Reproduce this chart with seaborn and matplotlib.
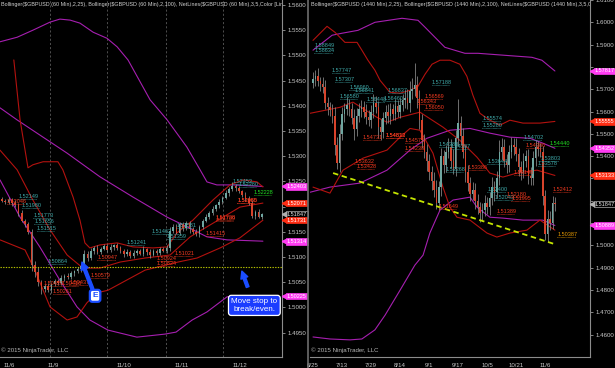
import numpy as np
import matplotlib
matplotlib.use("Agg")
import matplotlib.pyplot as plt
import matplotlib.transforms as mtransforms
import seaborn as sns

# ---------------- LEFT PANEL (60 min) ----------------
L_first_open = 1.5215
L_close = [1.5212, 1.5209, 1.5214, 1.5207, 1.5204, 1.5188, 1.5172, 1.5165, 1.5150, 1.5085,
           1.5070, 1.5050, 1.5036, 1.5042, 1.5034, 1.5046, 1.5052, 1.5049, 1.5058, 1.5063,
           1.5060, 1.5068, 1.5072, 1.5076, 1.5082, 1.5106, 1.5098, 1.5112, 1.5118, 1.5110,
           1.5116, 1.5121, 1.5114, 1.5119, 1.5123, 1.5117, 1.5112, 1.5106, 1.5110, 1.5102,
           1.5108, 1.5112, 1.5106, 1.5115, 1.5110, 1.5104, 1.5112, 1.5108, 1.5115, 1.5112,
           1.5118, 1.5152, 1.5160, 1.5148, 1.5165, 1.5158, 1.5168, 1.5155, 1.5150, 1.5145,
           1.5160, 1.5172, 1.5180, 1.5188, 1.5195, 1.5203, 1.5210, 1.5218, 1.5226, 1.5234,
           1.5240, 1.5236, 1.5230, 1.5224, 1.5216, 1.5208, 1.5182, 1.5190, 1.5180, 1.51847]
L_up_pips = [4, 3, 5, 3, 6, 4, 5, 3, 4, 6, 8, 10, 5, 4, 6, 3, 5, 4, 6, 3,
             5, 4, 3, 5, 4, 8, 6, 5, 4, 6, 3, 5, 4, 6, 3, 5, 4, 3, 6, 4,
             5, 3, 4, 6, 3, 5, 4, 3, 5, 4, 6, 8, 5, 6, 4, 5, 3, 4, 5, 6,
             4, 3, 5, 4, 6, 3, 5, 4, 6, 5, 8, 4, 5, 3, 4, 6, 5, 4, 5, 3]
L_dn_pips = [3, 4, 3, 5, 4, 6, 3, 5, 4, 12, 10, 8, 10, 6, 4, 5, 3, 4, 5, 6,
             3, 4, 5, 3, 6, 4, 5, 3, 6, 4, 5, 3, 4, 5, 6, 3, 4, 6, 5, 3,
             4, 5, 3, 4, 6, 5, 3, 4, 5, 3, 4, 6, 5, 3, 4, 6, 5, 8, 4, 3,
             5, 4, 3, 5, 4, 3, 5, 4, 3, 5, 4, 6, 3, 5, 4, 5, 4, 6, 3, 5]

L_bb25_up_x = [3.6, 5.5, 7.9, 9.4, 12.5, 17, 18.5, 21.6, 23.7, 25.2, 26.7, 29.8, 35, 39.8, 45.9, 50.2, 53.2, 58, 64.1, 69.3, 73.3, 77.5, 79.3]
L_bb25_up_y = [1.5491, 1.5372, 1.5277, 1.5283, 1.5289, 1.5289, 1.5273, 1.5219, 1.5173, 1.5128, 1.5118, 1.5124, 1.5128, 1.5120, 1.5118, 1.5120, 1.5148, 1.5173, 1.5213, 1.5243, 1.5253, 1.5249, 1.5239]
L_bb25_mid_x = [-0.6, 4.6, 9.4, 14.6, 19.8, 24.6, 29.8, 35.9, 43.5, 51.1, 57.2, 67.2, 72.3, 79.3]
L_bb25_mid_y = [1.5312, 1.5273, 1.5213, 1.5154, 1.5104, 1.5078, 1.5078, 1.5090, 1.5098, 1.5104, 1.5140, 1.5179, 1.5199, 1.5207]
L_bb25_lo_x = [-0.6, 7, 10, 14.6, 19.8, 22.8, 25.8, 28.9, 32.2, 43.5, 53.5, 59.3, 66.3, 72.3, 79.3]
L_bb25_lo_y = [1.5134, 1.5114, 1.5074, 1.5001, 1.4975, 1.4981, 1.5009, 1.5029, 1.5034, 1.5074, 1.5090, 1.5098, 1.5118, 1.5138, 1.5173]
L_bb100_up_x = [-0.6, 4.6, 9.4, 14.6, 17.6, 20.7, 23.7, 27.7, 31.9, 35, 38.3, 45, 50.2, 56.2, 60.2, 62.3, 65.3, 70.2, 79.3]
L_bb100_up_y = [1.5527, 1.5536, 1.5550, 1.5566, 1.5572, 1.5570, 1.5564, 1.5546, 1.5534, 1.5517, 1.5491, 1.5412, 1.5372, 1.5318, 1.5273, 1.5249, 1.5243, 1.5243, 1.5240]
L_bb100_mid_x = [-0.6, 4.6, 19.8, 29.8, 39.8, 50.2, 56.2, 62.3, 68.4, 79.3]
L_bb100_mid_y = [1.5396, 1.5372, 1.5306, 1.5259, 1.5219, 1.5179, 1.5160, 1.5140, 1.5134, 1.51314]
L_bb100_lo_x = [-0.6, 5.5, 11.5, 17.6, 22.8, 26.7, 32.2, 41, 49.5, 52.9, 57.8, 62.3, 68.4, 79.3]
L_bb100_lo_y = [1.5253, 1.5179, 1.5120, 1.5054, 1.5001, 1.4975, 1.4955, 1.4941, 1.4947, 1.4951, 1.4975, 1.4991, 1.5021, 1.50225]

L_entry_price = 1.5080
L_grid_x = [14.6, 31.9, 49.8, 67.2]
L_tick_x = [2.1, 15.5, 37.1, 54.7, 72.3]
L_tick_lab = ['11/6', '11/9', '11/10', '11/11', '11/12']
L_tag_vals = [1.52403, 1.52071, 1.51847, 1.51731, 1.51314, 1.50225]
L_tag_kind = ['m', 'r', 'k', 'r', 'm', 'm']

L_hi_vals = [1.52149, 1.51980, 1.51773, 1.51656, 1.51515, 1.50864, 1.51241, 1.51462, 1.51359, 1.51581, 1.52453, 1.52380]
L_hi_x = [5, 6, 9.5, 9.8, 10.5, 14, 38, 45.5, 50, 53, 70, 72]
L_lo_vals = [1.52046, 1.50420, 1.50437, 1.50416, 1.50261, 1.50579, 1.50947, 1.50924, 1.50824, 1.51021, 1.51415, 1.51738, 1.51709, 1.52080, 1.52065]
L_lo_x = [1.5, 12.5, 20.5, 18, 15.5, 27, 29, 47, 47, 52.5, 62, 65, 65, 71.5, 71.5]
L_green_vals = [1.52228]
L_green_x = [76.5]

# ---------------- RIGHT PANEL (1440 min) ----------------
R_first_open = 1.5730
R_close = [1.5745, 1.5760, 1.5735, 1.5725, 1.5710, 1.5640, 1.5620, 1.5605, 1.5580, 1.5450,
           1.5370, 1.5500, 1.5590, 1.5610, 1.5630, 1.5610, 1.5570, 1.5520, 1.5580, 1.5610,
           1.5620, 1.5600, 1.5575, 1.5560, 1.5600, 1.5640, 1.5620, 1.5530, 1.5510, 1.5570,
           1.5600, 1.5580, 1.5610, 1.5590, 1.5625, 1.5600, 1.5630, 1.5650, 1.5660, 1.5640,
           1.5690, 1.5700, 1.5720, 1.5660, 1.5560, 1.5470, 1.5420, 1.5380, 1.5330, 1.5290,
           1.5250, 1.5190, 1.5260, 1.5400, 1.5360, 1.5420, 1.5440, 1.5380, 1.5340, 1.5480,
           1.5550, 1.5490, 1.5420, 1.5330, 1.5280, 1.5230, 1.5250, 1.5200, 1.5170, 1.5145,
           1.5160, 1.5190, 1.5170, 1.5210, 1.5260, 1.5240, 1.5300, 1.5420, 1.5440, 1.5380,
           1.5360, 1.5420, 1.5450, 1.5440, 1.5410, 1.5350, 1.5330, 1.5380, 1.5400, 1.5310,
           1.5300, 1.5390, 1.5440, 1.5430, 1.5420, 1.5220, 1.5050, 1.5120, 1.5100, 1.5190,
           1.51847]
R_up_pips = [30, 25, 35, 20, 28, 30, 25, 22, 30, 40,
             35, 45, 30, 28, 35, 25, 30, 40, 35, 28,
             30, 25, 35, 30, 28, 40, 30, 25, 35, 30,
             28, 35, 30, 25, 30, 28, 32, 30, 35, 40,
             45, 50, 96, 40, 35, 30, 28, 35, 30, 25,
             40, 45, 30, 35, 28, 30, 40, 35, 50, 35,
             107, 30, 35, 28, 30, 25, 35, 30, 28, 25,
             30, 35, 28, 30, 45, 30, 35, 50, 40, 35,
             30, 28, 35, 30, 40, 25, 30, 35, 28, 30,
             40, 35, 30, 28, 30, 25, 30, 40, 35, 30,
             25]
R_dn_pips = [25, 30, 20, 35, 28, 30, 35, 25, 30, 45,
             27, 40, 30, 35, 25, 30, 28, 47, 30, 25,
             35, 28, 30, 25, 35, 30, 28, 49, 40, 30,
             25, 30, 35, 28, 30, 25, 30, 28, 35, 30,
             40, 35, 30, 45, 40, 35, 30, 45, 35, 40,
             35, 25, 30, 40, 35, 30, 28, 35, 18, 30,
             35, 40, 30, 45, 35, 30, 28, 35, 30, 40,
             35, 30, 28, 35, 30, 40, 30, 28, 35, 30,
             35, 30, 28, 35, 30, 40, 35, 28, 30, 35,
             30, 28, 35, 30, 25, 40, 27, 35, 30, 28,
             30]

R_bb25_up_x = [0, 5.8, 9.1, 13.2, 18.2, 20.2, 22.7, 25.6, 27.7, 31.8, 36, 40.1, 43.4, 46.3, 49.2, 52.5, 56.6, 60.7, 63.6, 66.1, 69, 73.1, 77.3, 81.4, 86.8, 93.8, 100]
R_bb25_up_y = [1.5919, 1.5982, 1.5955, 1.5910, 1.5910, 1.5875, 1.5830, 1.5785, 1.5740, 1.5686, 1.5682, 1.5695, 1.5713, 1.5767, 1.5812, 1.5830, 1.5830, 1.5812, 1.5758, 1.5673, 1.5592, 1.5561, 1.5539, 1.5561, 1.5548, 1.5548, 1.55555]
R_bb25_mid_x = [-1.2, 11.2, 16.5, 26.4, 30.6, 36, 44.2, 53.7, 60.7, 67.8, 73.1, 78.5, 84.3, 92.6, 100]
R_bb25_mid_y = [1.5592, 1.5619, 1.5642, 1.5574, 1.5552, 1.5574, 1.5597, 1.5530, 1.5471, 1.5395, 1.5324, 1.5306, 1.5324, 1.5337, 1.53133]
R_bb25_lo_x = [0, 7, 12.4, 20.7, 30.6, 36, 40.1, 44.2, 49.6, 53.7, 56.6, 59.5, 64.9, 71.9, 76, 81.4, 88.4, 93.8, 100]
R_bb25_lo_y = [1.5261, 1.5234, 1.5337, 1.5391, 1.5427, 1.5485, 1.5524, 1.5516, 1.5413, 1.5261, 1.5171, 1.5126, 1.5113, 1.5055, 1.5037, 1.5055, 1.5068, 1.5113, 1.5068]
R_bb100_up_x = [0, 7.9, 12, 18.6, 25.6, 36.8, 43.4, 46.3, 54.5, 62.8, 68.2, 79.3, 90.5, 94.6, 100]
R_bb100_up_y = [1.5875, 1.5942, 1.5951, 1.5964, 1.6000, 1.6018, 1.6009, 1.5978, 1.5888, 1.5861, 1.5861, 1.5852, 1.5843, 1.5830, 1.57817]
R_bb100_mid_x = [-1.2, 7, 19.4, 30.6, 40.1, 47.1, 56.6, 64.9, 73.1, 81.4, 89.7, 95, 100]
R_bb100_mid_y = [1.5238, 1.5261, 1.5279, 1.5337, 1.5427, 1.5480, 1.5516, 1.5524, 1.5503, 1.5485, 1.5480, 1.5458, 1.54352]
R_bb100_lo_x = [0, 7, 15.3, 20.2, 25.6, 29.8, 36, 42.1, 45.5, 48.3, 52.5, 57.9, 64.9, 67.8, 73.1, 78.5, 86.8, 95, 100]
R_bb100_lo_y = [1.4589, 1.4580, 1.4576, 1.4580, 1.4621, 1.4687, 1.4799, 1.4911, 1.4956, 1.5055, 1.5158, 1.5203, 1.5216, 1.5171, 1.5126, 1.5122, 1.5113, 1.5113, 1.50889]

R_trend_x = [8.3, 100]
R_trend_y = [1.5324, 1.5005]
R_tick_x = [0, 12, 24, 36, 48, 60, 72, 84, 96]
R_tick_lab = ['6/25', '7/13', '7/29', '8/14', '9/1', '9/17', '10/5', '10/21', '11/6']
R_tag_vals = [1.57817, 1.55555, 1.54352, 1.53133, 1.51847, 1.50889]
R_tag_kind = ['m', 'r', 'm', 'r', 'k', 'm']

R_hi_vals = [1.58849, 1.58634, 1.57747, 1.57307, 1.56580, 1.56960, 1.56841, 1.56448, 1.56460, 1.56837, 1.57188, 1.55574, 1.55280, 1.54388, 1.54307, 1.53268, 1.53644, 1.52400, 1.52043, 1.54702, 1.53803, 1.53578]
R_hi_x = [0.5, 0.5, 7.8, 9, 11, 15, 17, 22, 29, 31, 49, 70, 70, 52, 57, 55, 72, 72, 75, 87, 94, 93]
R_lo_vals = [1.54731, 1.54813, 1.54832, 1.53632, 1.53428, 1.56569, 1.56343, 1.56050, 1.54572, 1.54238, 1.51649, 1.53386, 1.51389, 1.52180, 1.51995, 1.53148, 1.54386, 1.52412]
R_lo_x = [20.7, 30, 30, 17, 18, 46, 43, 46, 38, 38, 52, 64, 76, 80, 82, 83, 88, 99]
R_green_vals = [1.5444]
R_green_x = [98]
R_orange_vals = [1.50387]
R_orange_x = [101]

# ---------------- STYLE ----------------
sns.set_theme(style="dark", rc={
    "axes.facecolor": "black", "figure.facecolor": "black",
    "axes.edgecolor": "#8c8c8c", "axes.linewidth": 0.8,
    "xtick.color": "#9a9a9a", "ytick.color": "#9a9a9a",
    "text.color": "#d0d0d0", "axes.grid": False,
})
plt.rcParams['font.family'] = ['Liberation Sans', 'DejaVu Sans']

UP_C = '#6fa6a0'
DN_C = '#d8432b'
WICK_C = '#8c8c8c'
BB25_C = '#b3120f'
BB100_C = '#a61fb0'
TEAL = '#3fa9a9'
LOWRED = '#f0391f'
TAG = {'m': ('#ff3cf2', '#ffffff', '#ff3cf2'), 'r': ('#ff2d14', '#ffffff', '#ff2d14'),
       'k': ('#000000', '#e0e0e0', '#b0b0b0')}
FS = 4.4
TFS = 4.0

fig = plt.figure(figsize=(6.15, 3.68), dpi=100)
W, H = 615.0, 368.0
axL = fig.add_axes([0 / W, 11 / H, 282 / W, 357 / H])
axR = fig.add_axes([310 / W, 11 / H, 280 / W, 357 / H])


def candles(ax, first_open, closes, up, dn, width):
    c = np.array(closes)
    o = np.concatenate([[first_open], c[:-1]])
    x = np.arange(len(c))
    top = np.maximum(o, c)
    bot = np.minimum(o, c)
    hi = top + np.array(up) * 1e-4
    lo = bot - np.array(dn) * 1e-4
    ax.vlines(x, lo, hi, color=WICK_C, lw=0.55, zorder=3)
    cols = [UP_C if cc >= oo else DN_C for oo, cc in zip(o, c)]
    ax.bar(x, np.maximum(top - bot, 0.00012), bottom=bot, width=width, color=cols,
           lw=0, zorder=4)


def band(ax, xs, ys, color, lw=0.8):
    sns.lineplot(x=xs, y=ys, ax=ax, color=color, lw=lw, zorder=2, legend=False)


def labels(ax, vals, xs, color, span):
    for v, x in zip(vals, xs):
        ax.text(x, v, f"{v:.5f}", color=color, fontsize=TFS,
                ha='left', va='bottom', zorder=6, clip_on=True)
        ax.hlines(v, x, x + span, color=color, lw=0.6, linestyles=(0, (0.6, 0.8)), zorder=6)


def tags(ax, vals, kinds, axw):
    tr = mtransforms.blended_transform_factory(ax.transAxes, ax.transData)
    for v, k in zip(vals, kinds):
        fc, tc, ec = TAG[k]
        ax.text(1 + 4.5 / axw, v, f"{v:.5f}", transform=tr, color=tc, fontsize=TFS,
                ha='left', va='center', zorder=10, clip_on=False,
                bbox=dict(boxstyle='square,pad=0.15', fc=fc, ec=ec, lw=0.5))
        ax.plot([1 + 2.2 / axw], [v], transform=tr, marker='<', ms=3.2, color=ec,
                mec=ec, clip_on=False, zorder=11)


def style_axis(ax, ylo, yhi, yticks, tag_vals, px_per_unit):
    ax.set_ylim(ylo, yhi)
    for s in ['left', 'top']:
        ax.spines[s].set_visible(False)
    ax.yaxis.tick_right()
    ax.set_yticks(yticks)
    labs = []
    for t in yticks:
        covered = any(abs(t - tv) * px_per_unit < 4.8 for tv in tag_vals)
        labs.append('' if covered else f"{t:.4f}")
    ax.set_yticklabels(labs)
    ax.tick_params(axis='y', length=2.5, width=0.6, labelsize=FS, labelcolor='#c8c8c8', pad=1.5)
    ax.tick_params(axis='x', length=2.5, width=0.6, labelsize=FS, labelcolor='#c8c8c8', pad=1.5)
    ax.set_xlabel('')
    ax.set_ylabel('')


# ---------- LEFT ----------
axL.set_xlim(-0.6, 85.1)
for gx in L_grid_x:
    axL.axvline(gx, color='#5a5a5a', lw=0.6, ls=(0, (2.5, 2.5)), zorder=1)
band(axL, L_bb100_up_x, L_bb100_up_y, BB100_C)
band(axL, L_bb100_mid_x, L_bb100_mid_y, BB100_C)
band(axL, L_bb100_lo_x, L_bb100_lo_y, BB100_C)
band(axL, L_bb25_up_x, L_bb25_up_y, BB25_C)
band(axL, L_bb25_mid_x, L_bb25_mid_y, BB25_C)
band(axL, L_bb25_lo_x, L_bb25_lo_y, BB25_C)
axL.axhline(L_entry_price, color='#b8c400', lw=0.8, ls=(0, (1.2, 1.2)), zorder=5)
candles(axL, L_first_open, L_close, L_up_pips, L_dn_pips, 0.5)
labels(axL, L_hi_vals, L_hi_x, TEAL, 5.2)
labels(axL, L_lo_vals, L_lo_x, LOWRED, 5.2)
labels(axL, L_green_vals, L_green_x, '#22e022', 5.2)
style_axis(axL, 1.49016, 1.56099, np.round(np.arange(1.495, 1.5601, 0.005), 4),
           L_tag_vals, 357 / (1.56099 - 1.49016))
axL.set_xticks(L_tick_x)
axL.set_xticklabels(L_tick_lab)
tags(axL, L_tag_vals, L_tag_kind, 282.0)

axL.text(0.003, 0.993, "Bollinger($GBPUSD (60 Min),2,25), Bollinger($GBPUSD (60 Min),2,100), "
         "NetLines($GBPUSD (60 Min),3,5,Color [Lime",
         transform=axL.transAxes, fontsize=3.9, color='#d0d0d0', ha='left', va='top', clip_on=True)
axL.text(0.003, 0.012, "\u00a9 2015 NinjaTrader, LLC", transform=axL.transAxes,
         fontsize=FS, color='#b8b8b8', ha='left', va='bottom')

# annotations
axL.annotate('E', xy=(24.3, 1.5090), xytext=(28.3, 1.5023), fontsize=6, color='#1b4dff',
             ha='center', va='center', fontweight='bold', zorder=12,
             bbox=dict(boxstyle='round,pad=0.3', fc='white', ec='#1b4dff', lw=1.6),
             arrowprops=dict(arrowstyle='simple,head_width=0.9,head_length=0.9,tail_width=0.35',
                             fc='#1b4dff', ec='#1b4dff', shrinkA=0, shrinkB=0))
axL.annotate('Move stop to\nbreak/even.', xy=(72.9, 1.5072), xytext=(76.7, 1.5004), fontsize=5.8,
             color='white', ha='center', va='center', zorder=12, linespacing=1.1,
             bbox=dict(boxstyle='round,pad=0.35', fc='#1b3cff', ec='white', lw=0.9),
             arrowprops=dict(arrowstyle='simple,head_width=0.9,head_length=0.9,tail_width=0.35',
                             fc='#1b4dff', ec='#1b4dff', shrinkA=6, shrinkB=0))

# ---------- RIGHT ----------
axR.set_xlim(-1.24, 114.5)
band(axR, R_bb100_up_x, R_bb100_up_y, BB100_C)
band(axR, R_bb100_mid_x, R_bb100_mid_y, BB100_C)
band(axR, R_bb100_lo_x, R_bb100_lo_y, BB100_C)
band(axR, R_bb25_up_x, R_bb25_up_y, BB25_C)
band(axR, R_bb25_mid_x, R_bb25_mid_y, BB25_C)
band(axR, R_bb25_lo_x, R_bb25_lo_y, BB25_C)
candles(axR, R_first_open, R_close, R_up_pips, R_dn_pips, 0.62)
sns.lineplot(x=R_trend_x, y=R_trend_y, ax=axR, color='#c4e400', lw=1.3, zorder=5,
             linestyle=(0, (3, 2)))
labels(axR, R_hi_vals, R_hi_x, TEAL, 7.2)
labels(axR, R_lo_vals, R_lo_x, LOWRED, 7.2)
labels(axR, R_green_vals, R_green_x, '#22e022', 7.2)
labels(axR, R_orange_vals, R_orange_x, '#e69a00', 7.2)
style_axis(axR, 1.44992, 1.60986, np.round(np.arange(1.46, 1.6101, 0.01), 2),
           R_tag_vals, 357 / (1.60986 - 1.44992))
axR.set_xticks(R_tick_x)
axR.set_xticklabels(R_tick_lab)
axR.set_xticks(np.arange(len(R_close)), minor=True)
axR.tick_params(axis='x', which='minor', length=1.8, width=0.4, color='#9a9a9a')
tags(axR, R_tag_vals, R_tag_kind, 280.0)
axR.text(0.003, 0.993, "Bollinger($GBPUSD (1440 Min),2,25), Bollinger($GBPUSD (1440 Min),2,100), "
         "NetLines($GBPUSD (1440 Min),3,5,Col",
         transform=axR.transAxes, fontsize=3.9, color='#d0d0d0', ha='left', va='top', clip_on=True)
axR.text(0.003, 0.012, "\u00a9 2015 NinjaTrader, LLC", transform=axR.transAxes,
         fontsize=FS, color='#b8b8b8', ha='left', va='bottom')

# panel separator
fig.add_artist(plt.Line2D([308 / W, 308 / W], [0, 1], color='#6e6e6e', lw=1.2))

fig.savefig("out.png", dpi=100, facecolor='black')
